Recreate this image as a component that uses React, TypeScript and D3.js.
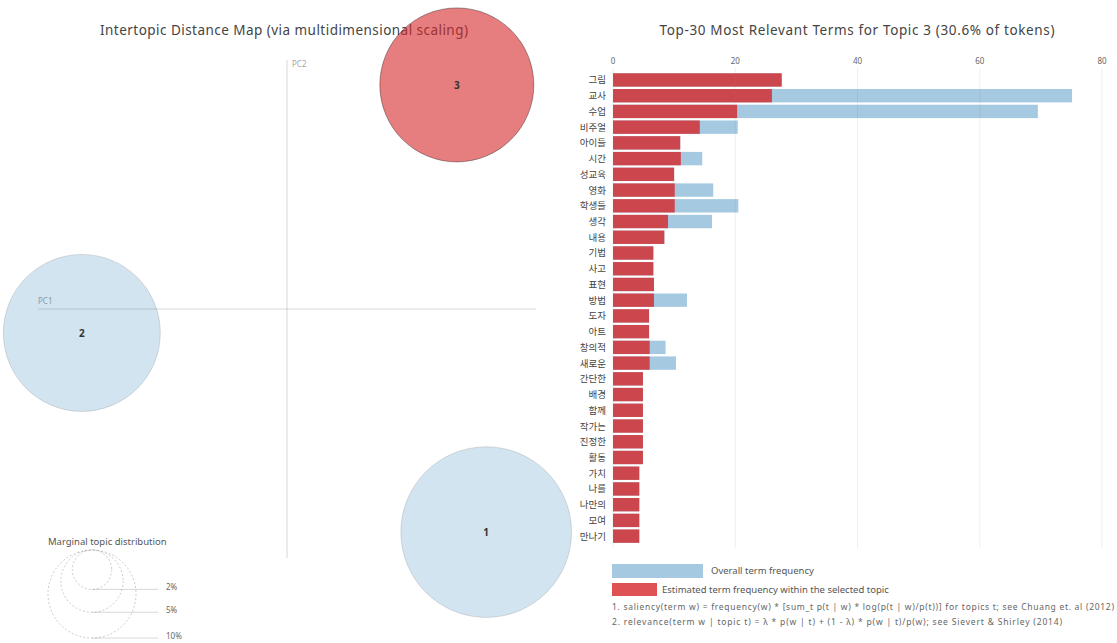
import React from "react";
import * as d3 from "d3";

const terms = ["그림", "교사", "수업", "비주얼", "아이들", "시간", "성교육", "영화", "학생들", "생각", "내용", "기법", "사고", "표현", "방법", "도자", "아트", "창의적", "새로운", "간단한", "배경", "함께", "작가는", "진정한", "활동", "가치", "나를", "나만의", "모여", "만나기"];
const topicFreq = [27.6, 26.0, 20.3, 14.2, 11.0, 11.1, 10.0, 10.1, 10.1, 9.0, 8.4, 6.6, 6.6, 6.7, 6.7, 5.9, 5.9, 6.0, 6.0, 4.9, 4.9, 4.9, 4.9, 4.9, 4.9, 4.3, 4.3, 4.3, 4.3, 4.3];
const overallFreq = [27.6, 75.1, 69.5, 20.4, 11.0, 14.6, 10.0, 16.4, 20.5, 16.2, 8.4, 6.6, 6.6, 6.7, 12.1, 5.9, 5.9, 8.6, 10.3, 4.9, 4.9, 4.9, 4.9, 4.9, 4.9, 4.3, 4.3, 4.3, 4.3, 4.3];
const xTicks = [0, 20, 40, 60, 80];

const topicIds = [1, 2, 3];
const topicPC1 = [0.4, -0.412, 0.341];
const topicPC2 = [-0.448, -0.048, 0.45];
const topicShare = [0.376, 0.318, 0.306];
const selectedTopic = 3;

const legendShares = [0.02, 0.05, 0.1];
const legendLabels = ["2%", "5%", "10%"];

const FONT = "'Noto Sans', 'Noto Sans CJK KR', sans-serif";
const KFONT = "'Noto Sans CJK KR', 'Noto Sans', sans-serif";
const RED = "#d62728";
const BLUE = "#1f77b4";

export default function App() {
  const W = 1117, H = 643;
  const mdsLeft = 38, mdsTop = 60, mdsW = 498, mdsH = 498;
  const px = d3.scaleLinear().domain([-0.5, 0.5]).range([mdsLeft, mdsLeft + mdsW]);
  const py = d3.scaleLinear().domain([-0.5, 0.5]).range([mdsTop + mdsH, mdsTop]);
  const rs = d3.scaleSqrt().domain([0, 1]).range([0, 139.2]);

  const x = d3.scaleLinear().domain([0, 80]).range([613, 1102]);
  const y = d3.scaleBand().domain(terms).range([72.1, 544]).paddingInner(0.15).paddingOuter(0.075);

  const legCx = 92, legTop = 550;
  const rLarge = rs(0.1);
  const legCx2 = legCx + 1.5 * rLarge;

  return (
    <svg width={W} height={H} style={{ position: "absolute", left: 0, top: 0, background: "#fff" }}>
      <text x={284} y={35} textAnchor="middle" fontFamily={FONT} fontSize={13.5} fill="#444" textLength={368} lengthAdjust="spacing">
        Intertopic Distance Map (via multidimensional scaling)
      </text>
      <line x1={mdsLeft} x2={mdsLeft + mdsW} y1={py(0)} y2={py(0)} stroke="gray" opacity={0.3} />
      <text x={mdsLeft} y={py(0) - 5} fontFamily={FONT} fontSize={8} fill="gray" opacity={0.7}>PC1</text>
      <line x1={px(0)} x2={px(0)} y1={mdsTop} y2={mdsTop + mdsH} stroke="gray" opacity={0.3} />
      <text x={px(0) + 5} y={mdsTop + 7} fontFamily={FONT} fontSize={8} fill="gray" opacity={0.7}>PC2</text>
      {topicIds.map((id, i) => (
        <g key={id}>
          <circle
            cx={px(topicPC1[i])}
            cy={py(topicPC2[i])}
            r={rs(topicShare[i])}
            fill={id === selectedTopic ? RED : BLUE}
            fillOpacity={id === selectedTopic ? 0.6 : 0.2}
            stroke="black"
            strokeOpacity={id === selectedTopic ? 0.35 : 0.12}
          />
          <text x={px(topicPC1[i])} y={py(topicPC2[i]) + 4} textAnchor="middle" fontFamily={FONT} fontSize={10} fontWeight="bold" fill="#333">
            {id}
          </text>
        </g>
      ))}
      <text x={48} y={545} fontFamily={FONT} fontSize={9.5} fill="#555">Marginal topic distribution</text>
      {legendShares.map((s, i) => {
        const r = rs(s);
        return (
          <g key={s}>
            <circle cx={legCx} cy={legTop + r} r={r} fill="none" stroke="#999" strokeOpacity={0.5} strokeDasharray="2 2" />
            <line x1={legCx} x2={legCx2} y1={legTop + 2 * r} y2={legTop + 2 * r} stroke="gray" opacity={0.3} />
            <text x={legCx2 + 8} y={legTop + 2 * r + 1} fontFamily={FONT} fontSize={8} fill="#666">{legendLabels[i]}</text>
          </g>
        );
      })}

      <text x={857} y={35} textAnchor="middle" fontFamily={FONT} fontSize={13.5} fill="#444" textLength={395} lengthAdjust="spacing">
        Top-30 Most Relevant Terms for Topic 3 (30.6% of tokens)
      </text>
      {terms.map((t, i) => (
        <rect key={"b" + t} x={x(0)} y={y(t)} width={x(overallFreq[i]) - x(0)} height={y.bandwidth()} fill={BLUE} opacity={0.4} />
      ))}
      {terms.map((t, i) => (
        <rect key={"r" + t} x={x(0)} y={y(t)} width={x(topicFreq[i]) - x(0)} height={y.bandwidth()} fill={RED} opacity={0.8} />
      ))}
      {xTicks.map((v) => (
        <g key={v}>
          <line x1={x(v)} x2={x(v)} y1={68} y2={548} stroke="gray" opacity={0.12} />
          <text x={x(v)} y={64} textAnchor="middle" fontFamily={FONT} fontSize={8} fill="#666">{v}</text>
        </g>
      ))}
      {terms.map((t) => (
        <text key={"t" + t} x={606} y={(y(t) as number) + y.bandwidth() / 2 + 3.5} textAnchor="end" fontFamily={KFONT} fontSize={9.5} fill="#444">
          {t}
        </text>
      ))}
      <rect x={612} y={564} width={91} height={14} fill={BLUE} opacity={0.4} />
      <text x={711} y={574} fontFamily={FONT} fontSize={9.5} fill="#555">Overall term frequency</text>
      <rect x={612} y={583} width={45} height={13} fill={RED} opacity={0.8} />
      <text x={662} y={593} fontFamily={FONT} fontSize={9.5} fill="#555">Estimated term frequency within the selected topic</text>
      <text x={612} y={610} fontFamily={FONT} fontSize={8.5} fill="#666" textLength={502} lengthAdjust="spacing">
        1. saliency(term w) = frequency(w) * [sum_t p(t | w) * log(p(t | w)/p(t))] for topics t; see Chuang et. al (2012)
      </text>
      <text x={612} y={625} fontFamily={FONT} fontSize={8.5} fill="#666" textLength={450} lengthAdjust="spacing">
        2. relevance(term w | topic t) = λ * p(w | t) + (1 - λ) * p(w | t)/p(w); see Sievert &amp; Shirley (2014)
      </text>
    </svg>
  );
}
